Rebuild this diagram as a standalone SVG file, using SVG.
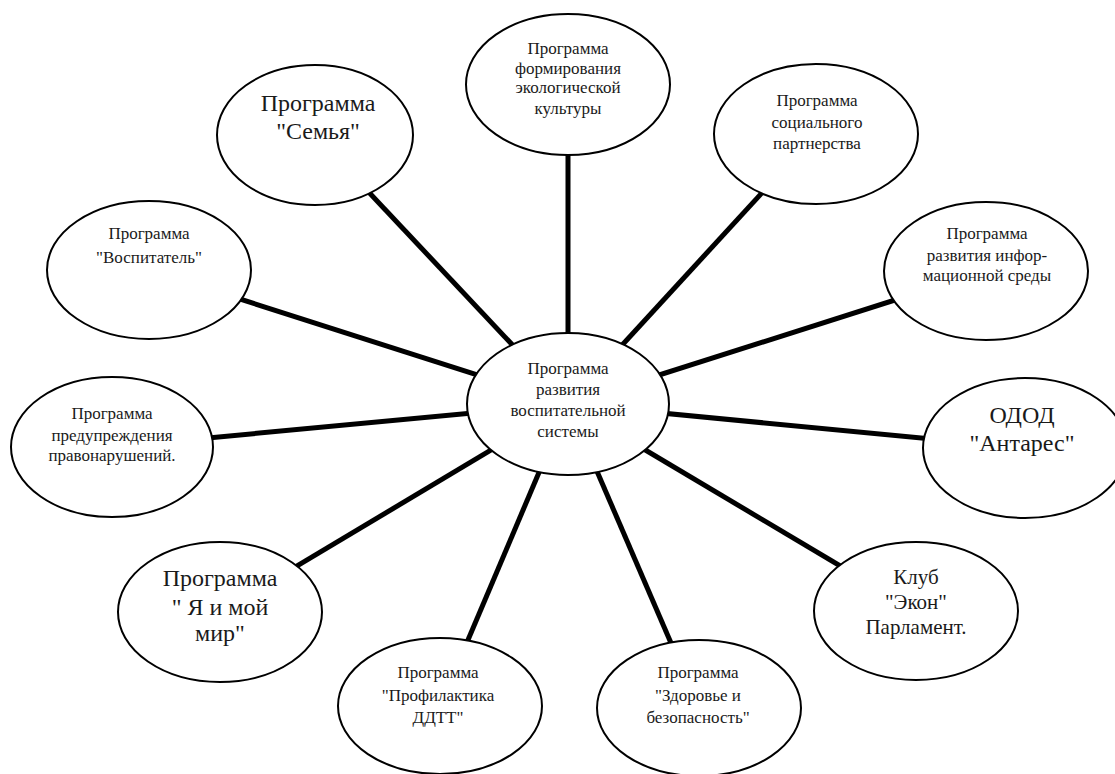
<svg xmlns="http://www.w3.org/2000/svg" width="1115" height="774" viewBox="0 0 1115 774">
<style>
.c{stroke:#000;stroke-width:5;fill:none}
.e{fill:#fff;stroke:#000;stroke-width:2}
</style>
<rect x="0" y="0" width="1115" height="774" fill="#fff"/>
<g id="connectors">
<line class="c" x1="568" y1="404" x2="568" y2="84"/>
<line class="c" x1="568" y1="404" x2="315" y2="135"/>
<line class="c" x1="568" y1="404" x2="816" y2="134"/>
<line class="c" x1="568" y1="404" x2="149" y2="270"/>
<line class="c" x1="568" y1="404" x2="986" y2="271"/>
<line class="c" x1="568" y1="404" x2="112" y2="447"/>
<line class="c" x1="568" y1="404" x2="1025" y2="448"/>
<line class="c" x1="568" y1="404" x2="220" y2="612"/>
<line class="c" x1="568" y1="404" x2="916" y2="611"/>
<line class="c" x1="568" y1="404" x2="440" y2="706"/>
<line class="c" x1="568" y1="404" x2="699" y2="708"/>
</g>
<g id="center">
<ellipse class="e" cx="568" cy="404" rx="101" ry="71"/>
<text x="568" y="374" font-family="Liberation Serif" font-size="17" text-anchor="middle" fill="#1a1a1a">Программа</text>
<text x="568" y="395" font-family="Liberation Serif" font-size="17" text-anchor="middle" fill="#1a1a1a">развития</text>
<text x="568" y="416" font-family="Liberation Serif" font-size="17" text-anchor="middle" fill="#1a1a1a">воспитательной</text>
<text x="568" y="437" font-family="Liberation Serif" font-size="17" text-anchor="middle" fill="#1a1a1a">системы</text>
</g>
<g id="ecology">
<ellipse class="e" cx="568" cy="84.5" rx="102" ry="70.5"/>
<text x="568" y="54" font-family="Liberation Serif" font-size="17" text-anchor="middle" fill="#1a1a1a">Программа</text>
<text x="568" y="74" font-family="Liberation Serif" font-size="17" text-anchor="middle" fill="#1a1a1a">формирования</text>
<text x="568" y="93" font-family="Liberation Serif" font-size="17" text-anchor="middle" fill="#1a1a1a">экологической</text>
<text x="568" y="114" font-family="Liberation Serif" font-size="17" text-anchor="middle" fill="#1a1a1a">культуры</text>
</g>
<g id="family">
<ellipse class="e" cx="315" cy="135" rx="98" ry="70"/>
<text x="318" y="111" font-family="Liberation Serif" font-size="24" text-anchor="middle" fill="#1a1a1a">Программа</text>
<text x="318" y="139" font-family="Liberation Serif" font-size="24" text-anchor="middle" fill="#1a1a1a">"Семья"</text>
</g>
<g id="social">
<ellipse class="e" cx="816" cy="134" rx="102" ry="70"/>
<text x="817" y="106" font-family="Liberation Serif" font-size="17" text-anchor="middle" fill="#1a1a1a">Программа</text>
<text x="817" y="128" font-family="Liberation Serif" font-size="17" text-anchor="middle" fill="#1a1a1a">социального</text>
<text x="817" y="149" font-family="Liberation Serif" font-size="17" text-anchor="middle" fill="#1a1a1a">партнерства</text>
</g>
<g id="educator">
<ellipse class="e" cx="149" cy="270" rx="102" ry="69"/>
<text x="149" y="239" font-family="Liberation Serif" font-size="17" text-anchor="middle" fill="#1a1a1a">Программа</text>
<text x="149" y="263" font-family="Liberation Serif" font-size="17" text-anchor="middle" fill="#1a1a1a">"Воспитатель"</text>
</g>
<g id="info">
<ellipse class="e" cx="986" cy="271" rx="102" ry="69"/>
<text x="987" y="239" font-family="Liberation Serif" font-size="17" text-anchor="middle" fill="#1a1a1a">Программа</text>
<text x="987" y="261" font-family="Liberation Serif" font-size="17" text-anchor="middle" fill="#1a1a1a">развития инфор-</text>
<text x="987" y="281" font-family="Liberation Serif" font-size="17" text-anchor="middle" fill="#1a1a1a">мационной среды</text>
</g>
<g id="prevention">
<ellipse class="e" cx="112" cy="447" rx="101" ry="70"/>
<text x="112" y="419" font-family="Liberation Serif" font-size="17" text-anchor="middle" fill="#1a1a1a">Программа</text>
<text x="112" y="441" font-family="Liberation Serif" font-size="17" text-anchor="middle" fill="#1a1a1a">предупреждения</text>
<text x="112" y="461" font-family="Liberation Serif" font-size="17" text-anchor="middle" fill="#1a1a1a">правонарушений.</text>
</g>
<g id="antares">
<ellipse class="e" cx="1025" cy="448" rx="102" ry="70"/>
<text x="1022" y="423" font-family="Liberation Serif" font-size="24" text-anchor="middle" fill="#1a1a1a">ОДОД</text>
<text x="1022" y="451" font-family="Liberation Serif" font-size="24" text-anchor="middle" fill="#1a1a1a">"Антарес"</text>
</g>
<g id="myworld">
<ellipse class="e" cx="220" cy="612" rx="102" ry="70"/>
<text x="220" y="586" font-family="Liberation Serif" font-size="24" text-anchor="middle" fill="#1a1a1a">Программа</text>
<text x="220" y="615" font-family="Liberation Serif" font-size="24" text-anchor="middle" fill="#1a1a1a">" Я и мой</text>
<text x="220" y="641" font-family="Liberation Serif" font-size="24" text-anchor="middle" fill="#1a1a1a">мир"</text>
</g>
<g id="club">
<ellipse class="e" cx="916" cy="611" rx="102" ry="69"/>
<text x="916" y="584" font-family="Liberation Serif" font-size="21" text-anchor="middle" fill="#1a1a1a">Клуб</text>
<text x="916" y="609" font-family="Liberation Serif" font-size="21" text-anchor="middle" fill="#1a1a1a">"Экон"</text>
<text x="916" y="634" font-family="Liberation Serif" font-size="21" text-anchor="middle" fill="#1a1a1a">Парламент.</text>
</g>
<g id="ddtt">
<ellipse class="e" cx="440" cy="706" rx="102" ry="68"/>
<text x="438" y="678" font-family="Liberation Serif" font-size="17" text-anchor="middle" fill="#1a1a1a">Программа</text>
<text x="438" y="701" font-family="Liberation Serif" font-size="17" text-anchor="middle" fill="#1a1a1a">"Профилактика</text>
<text x="438" y="723" font-family="Liberation Serif" font-size="17" text-anchor="middle" fill="#1a1a1a">ДДТТ"</text>
</g>
<g id="health">
<ellipse class="e" cx="699" cy="708" rx="102" ry="68"/>
<text x="698" y="678" font-family="Liberation Serif" font-size="17" text-anchor="middle" fill="#1a1a1a">Программа</text>
<text x="698" y="701" font-family="Liberation Serif" font-size="17" text-anchor="middle" fill="#1a1a1a">"Здоровье и</text>
<text x="698" y="723" font-family="Liberation Serif" font-size="17" text-anchor="middle" fill="#1a1a1a">безопасность"</text>
</g>
</svg>
